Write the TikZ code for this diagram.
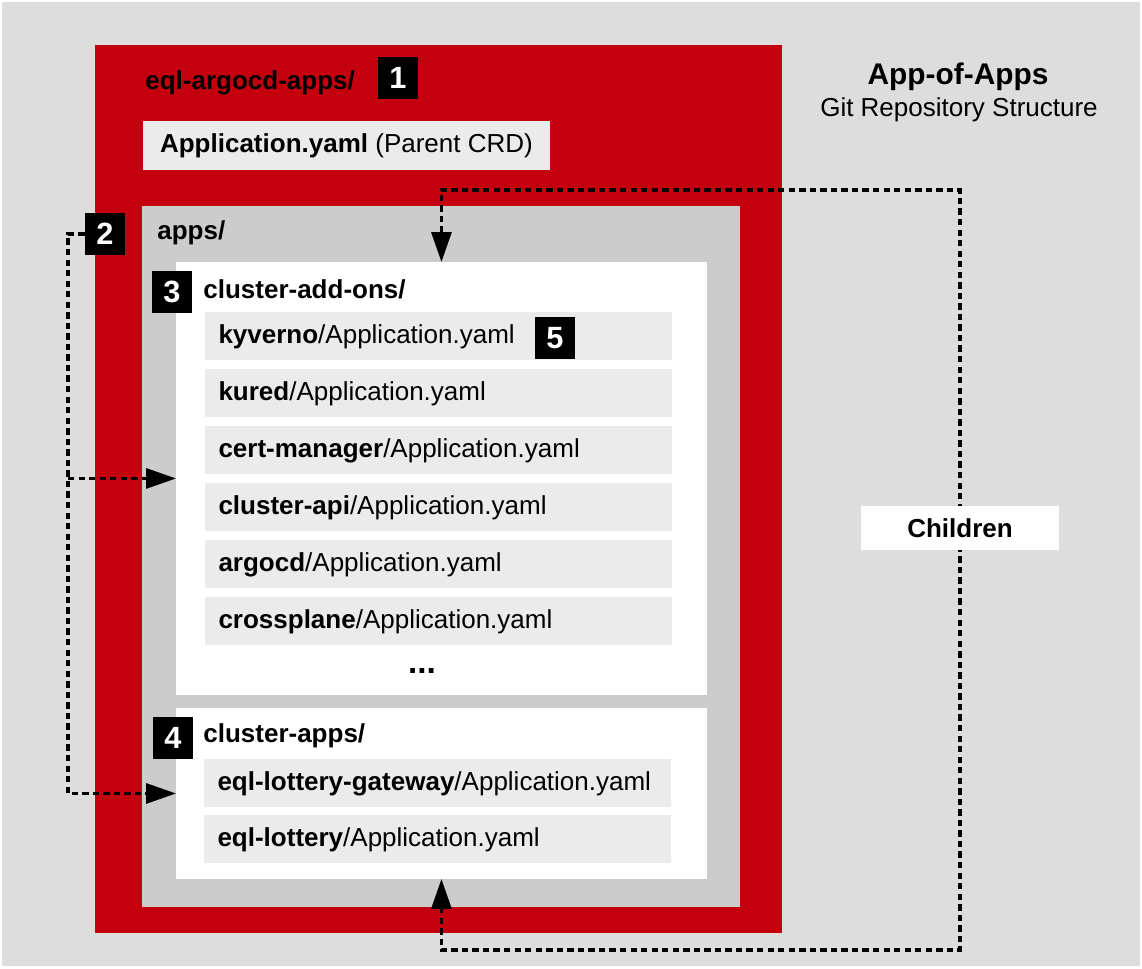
\documentclass[tikz,border=0pt]{standalone}
\usepackage{fontspec}
\setmainfont{Liberation Sans}
\usepackage{xcolor}
\usetikzlibrary{arrows.meta,positioning}

\definecolor{bgGrey}{HTML}{DDDDDD}
\definecolor{repoRed}{HTML}{C4000E}
\definecolor{appsGrey}{HTML}{CCCCCC}
\definecolor{itemGrey}{HTML}{EBEBEB}

\newcommand{\appyaml}[1]{\textbf{#1}/Application.yaml}

\begin{document}
\begin{tikzpicture}[ x = 0.02cm, y = -0.02cm,
    font = \fontsize{14.8}{17}\selectfont ]

    \tikzset{box/.style    = {anchor = north west, inner sep = 0pt, outer sep = 0pt}}
    \tikzset{item/.style   = {fill = itemGrey, minimum width = 9.34cm, minimum height = 0.96cm,
                              text width = 8.8cm, inner xsep = 0.27cm, inner ysep = 0pt,
                              text height = 0.85em, text depth = 0pt,
                              align = left, outer sep = 0pt}}
    \tikzset{badge/.style  = {fill = black, text = white, inner sep = 0pt,
                              minimum width = 0.8cm, minimum height = 0.84cm,
                              font = \fontsize{17.5}{18}\selectfont\bfseries}}
    \tikzset{dirname/.style = {anchor = base west, inner sep = 0pt,
                              font = \fontsize{14.8}{17}\selectfont\bfseries}}
    \tikzset{reflink/.style = {line width = 1.8pt, dash pattern = on 3.6pt off 2.4pt,
                              >={Triangle[length = 0.6cm, width = 0.4cm]}}}

    \useasboundingbox (0,0) rectangle (1142,969);
    \fill[bgGrey] (2,2) rectangle (1140,966);

    % nested folders
    \node[box, fill = repoRed,  minimum width = 13.74cm, minimum height = 17.76cm] (repo)  at (95,45)   {};
    \node[box, fill = itemGrey, minimum width = 8.14cm,  minimum height = 0.98cm]  (parent) at (143,121)
        {\textbf{Application.yaml} (Parent CRD)};
    \node[box, fill = appsGrey, minimum width = 11.96cm, minimum height = 14.02cm] (apps)  at (142,206) {};
    \node[box, fill = white,    minimum width = 10.62cm, minimum height = 8.66cm]  (adds)  at (176,262) {};
    \node[box, fill = white,    minimum width = 10.62cm, minimum height = 3.42cm]  (capps) at (176,708) {};

    \node[dirname] (reponame)  at (145,90)  {eql-argocd-apps/};
    \node[dirname] (appsname)  at (157,240) {apps/};
    \node[dirname] (addsname)  at (203,299) {cluster-add-ons/};
    \node[dirname] (cappsname) at (203,742) {cluster-apps/};

    % cluster-add-ons
    \node[item, anchor = north west] (kyverno) at (205,312) {\appyaml{kyverno}};
    \node[item, below = 0.18cm of kyverno] (kured)       {\appyaml{kured}};
    \node[item, below = 0.18cm of kured]   (certman)     {\appyaml{cert-manager}};
    \node[item, below = 0.18cm of certman] (clusterapi)  {\appyaml{cluster-api}};
    \node[item, below = 0.18cm of clusterapi] (argocd)   {\appyaml{argocd}};
    \node[item, below = 0.18cm of argocd]  (crossplane)  {\appyaml{crossplane}};
    \node[anchor = base, inner sep = 0pt, font = \fontsize{19}{19}\selectfont\bfseries] (more) at (422,673) {...};

    % cluster-apps
    \node[item, anchor = north west] (gateway) at (204,759) {\appyaml{eql-lottery-gateway}};
    \node[item, below = 0.16cm of gateway] (lottery) {\appyaml{eql-lottery}};

    \node[badge] (b1) at (398,78)  {1};
    \node[badge] (b2) at (105,234) {2};
    \node[badge] (b3) at (172,292) {3};
    \node[badge] (b4) at (173,738) {4};
    \node[badge] (b5) at (555,338) {5};

    \node[anchor = base, inner sep = 0pt, font = \fontsize{17}{19}\selectfont\bfseries] (title) at (958,85) {App-of-Apps};
    \node[anchor = base, inner sep = 0pt] (subtitle) at (959,117) {Git Repository Structure};

    % links
    \coordinate (rail) at (68,237);
    \coordinate (ctop) at (960,190);
    \coordinate (cbot) at (960,950);

    \draw[reflink, ->] (b2.west) -| (rail |- capps.west) -- (capps.west);
    \draw[reflink, ->] (rail |- adds.west) -- (adds.west);
    \draw[reflink, <->] (adds.north) |- (ctop) -- (cbot) -| (capps.south);

    \node[fill = white, inner sep = 0pt, minimum width = 3.98cm, minimum height = 0.88cm,
          font = \fontsize{14.8}{17}\selectfont\bfseries] (children) at (960,528) {Children};

\end{tikzpicture}
\end{document}
